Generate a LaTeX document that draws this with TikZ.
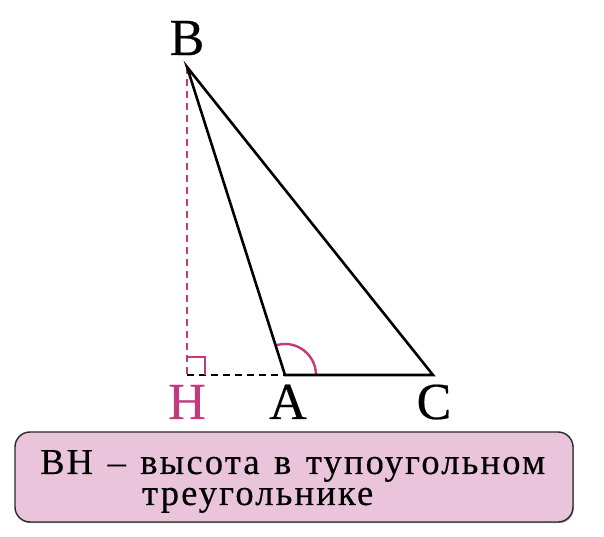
\documentclass[tikz,border=0pt]{standalone}
\usepackage{fontspec}
\setmainfont{Liberation Serif}
\newfontfamily\tnr{Liberation Serif}[FakeBold=0.4]
\newfontfamily\tnrsp{Liberation Serif}[LetterSpace=6, FakeBold=0.4]
\newcommand{\widespaces}{\spaceskip=14.5pt\relax}
\usetikzlibrary{shadows}
\definecolor{mag}{HTML}{C23A7E}
\definecolor{boxfill}{HTML}{EAC4DA}
\definecolor{boxline}{HTML}{2A2A2A}
\tikzset{
  tri/.style={line width=2.6pt, line join=miter},
  magdash/.style={mag, line width=2.8pt, dash pattern=on 7pt off 5pt},
  blkdash/.style={black, line width=2.8pt, dash pattern=on 7pt off 5pt},
  magline/.style={mag, line width=2.4pt},
  lbl/.style={font=\tnr\fontsize{52}{52}\selectfont, inner sep=0pt, anchor=base},
  infobox/.style={draw=boxline, line width=1.4pt, fill=boxfill, rounded corners=15pt,
    drop shadow={shadow xshift=0.8pt, shadow yshift=-1.2pt, fill=black!45, opacity=0.8}},
  boxtext/.style={font=\tnrsp\fontsize{36.5}{31}\selectfont, inner sep=0pt, anchor=base west}
}
\begin{document}
\begin{tikzpicture}[x=1pt,y=1pt]
\useasboundingbox (0,0) rectangle (604,537);
\coordinate (B) at (187,470);
\coordinate (H) at (187,162);
\coordinate (A) at (285,162);
\coordinate (C) at (433,162);
\draw[magdash] (B) -- (H);
\draw[blkdash] (H) -- (A);
\draw[magline] ([yshift=18pt]H) -| ([xshift=18pt]H);
\draw[magline] ([xshift=31pt]A) arc[start angle=0, end angle=107.6, radius=31pt];
\draw[tri] (A) -- (B) -- (C) -- cycle;
\node[lbl] (lB) at (187,482) {B};
\node[lbl, text=mag] (lH) at (187,118) {H};
\node[lbl] (lA) at (288,118) {A};
\node[lbl] (lC) at (434,118) {C};
\path[infobox] (15,15) rectangle (573,105);
\node[boxtext] (t1) at (40,63) {\widespaces BH – высота в тупоугольном};
\node[boxtext] (t2) at (142,32) {треугольнике};
\end{tikzpicture}
\end{document}
